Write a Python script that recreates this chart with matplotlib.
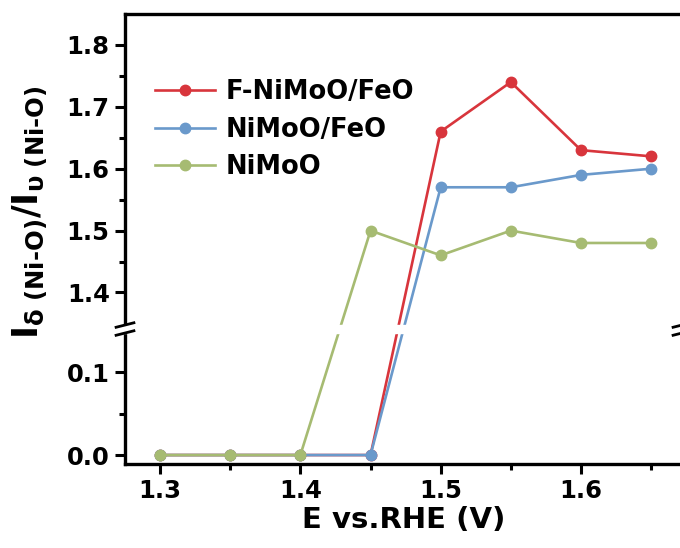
import numpy as np
import matplotlib
matplotlib.use('Agg')
import matplotlib.pyplot as plt
from matplotlib.ticker import FixedLocator

plt.rcParams['font.family'] = ['DejaVu Sans']
plt.rcParams['font.weight'] = 'bold'
plt.rcParams['axes.labelweight'] = 'bold'
plt.rcParams['mathtext.fontset'] = 'custom'
plt.rcParams['mathtext.rm'] = 'DejaVu Sans:bold'
plt.rcParams['mathtext.bf'] = 'DejaVu Sans:bold'
plt.rcParams['mathtext.it'] = 'DejaVu Sans:bold'
plt.rcParams['mathtext.default'] = 'rm'

# data
potential = [1.30, 1.35, 1.40, 1.45, 1.50, 1.55, 1.60, 1.65]
f_nimoo_feo = [0.0, 0.0, 0.0, 0.0, 1.66, 1.74, 1.63, 1.62]
nimoo_feo = [0.0, 0.0, 0.0, 0.0, 1.57, 1.57, 1.59, 1.60]
nimoo = [0.0, 0.0, 0.0, 1.50, 1.46, 1.50, 1.48, 1.48]
labels = ['F-NiMoO/FeO', 'NiMoO/FeO', 'NiMoO']
colors = ['#d8353c', '#6a99cb', '#a6bb72']

# broken y axis: piecewise linear scale (values -> pixel height)
y_lo, y_hi = -0.0108, 1.85
brk_lo, brk_hi = 0.147, 1.347
lower_k, upper_k = 830.0, 620.0
h_brk_lo = (brk_lo - y_lo) * lower_k
h_brk_hi = h_brk_lo + 8.0
vs = np.array([-10.0, brk_lo, brk_hi, 10.0])
hs = np.array([(-10.0 - y_lo) * lower_k, h_brk_lo, h_brk_hi,
               h_brk_hi + (10.0 - brk_hi) * upper_k])


def forward(v):
    return np.interp(v, vs, hs)


def inverse(h):
    return np.interp(h, hs, vs)


fig = plt.figure(figsize=(6.8, 5.48), dpi=100)
ax = fig.add_axes([125 / 680, 84 / 548, 557 / 680, 450 / 548])
ax.set_yscale('function', functions=(forward, inverse))

for y, lab, c in zip([f_nimoo_feo, nimoo_feo, nimoo], labels, colors):
    ax.plot(potential, y, '-o', color=c, lw=1.9, ms=7.5, mfc=c, mec=c,
            label=lab, zorder=2)

ax.set_xlim(1.275, 1.672)
ax.set_ylim(y_lo, y_hi)

ax.xaxis.set_major_locator(FixedLocator([1.3, 1.4, 1.5, 1.6]))
ax.xaxis.set_minor_locator(FixedLocator([1.35, 1.45, 1.55, 1.65]))
ax.yaxis.set_major_locator(FixedLocator([0.0, 0.1, 1.4, 1.5, 1.6, 1.7, 1.8]))
ax.yaxis.set_minor_locator(FixedLocator([0.05, 1.45, 1.55, 1.65, 1.75]))
ax.set_yticklabels(['0.0', '0.1', '1.4', '1.5', '1.6', '1.7', '1.8'])
ax.set_xticklabels(['1.3', '1.4', '1.5', '1.6'])

ax.tick_params(which='major', direction='out', length=7, width=2.2,
               labelsize=17.5, pad=4)
ax.tick_params(which='minor', direction='out', length=4, width=2.2)
for s in ax.spines.values():
    s.set_linewidth(2.4)

# gap of the axis break
ax.axhspan(brk_lo, brk_hi, xmin=-0.03, xmax=1.03, color='white',
           zorder=3, clip_on=False)
yb0 = h_brk_lo / 450.0
yb1 = h_brk_hi / 450.0
for xs in [0.0, 1.0]:
    for yb in [yb0, yb1]:
        ax.plot([xs - 0.016, xs + 0.016], [yb - 0.005, yb + 0.005],
                color='black', lw=2, transform=ax.transAxes,
                clip_on=False, zorder=4)

ax.set_xlabel('E vs.RHE (V)', fontsize=21, labelpad=2)
ax.set_ylabel(r'I$_{\mathregular{δ\ (Ni\text{-}O)}}$/I$_{\mathregular{υ\ (Ni\text{-}O)}}$',
              fontsize=25)
ax.yaxis.set_label_coords(-0.136, 0.56)

leg = ax.legend(loc='upper left', bbox_to_anchor=(0.036, 0.878),
                borderaxespad=0, frameon=False, fontsize=18.5,
                handlelength=2.33, handletextpad=0.39, labelspacing=0.45)

fig.savefig('out.png', dpi=100)
